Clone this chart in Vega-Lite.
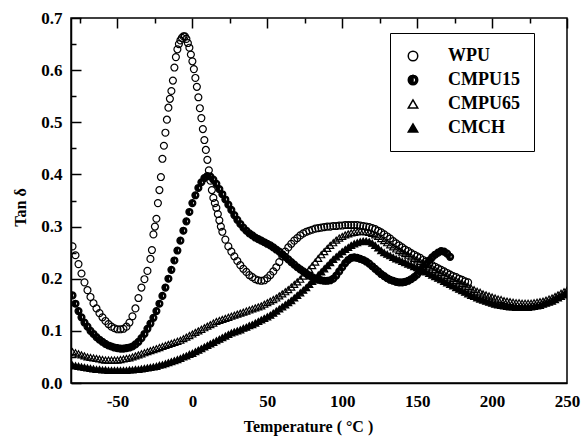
{
"$schema":"https://vega.github.io/schema/vega-lite/v6.json",
"width":496,"height":365,
"autosize":{"type":"none"},
"padding":{"left":71,"top":18,"right":18,"bottom":58},
"background":"white",
"config":{"view":{"stroke":"black","strokeWidth":1.5},"font":"Liberation Serif"},
"data":{"values":[
{"s":"CMCH","t":-80,"v":0.034},{"s":"CMCH","t":-78,"v":0.033},{"s":"CMCH","t":-76,"v":0.032},{"s":"CMCH","t":-74,"v":0.031},{"s":"CMCH","t":-72,"v":0.030},{"s":"CMCH","t":-70,"v":0.029},{"s":"CMCH","t":-68,"v":0.028},{"s":"CMCH","t":-66,"v":0.027},{"s":"CMCH","t":-64,"v":0.026},{"s":"CMCH","t":-62,"v":0.026},{"s":"CMCH","t":-60,"v":0.025},{"s":"CMCH","t":-58,"v":0.025},{"s":"CMCH","t":-56,"v":0.024},{"s":"CMCH","t":-54,"v":0.024},{"s":"CMCH","t":-52,"v":0.024},{"s":"CMCH","t":-50,"v":0.024},{"s":"CMCH","t":-48,"v":0.024},{"s":"CMCH","t":-46,"v":0.024},{"s":"CMCH","t":-44,"v":0.024},{"s":"CMCH","t":-42,"v":0.025},{"s":"CMCH","t":-40,"v":0.025},{"s":"CMCH","t":-38,"v":0.026},{"s":"CMCH","t":-36,"v":0.026},{"s":"CMCH","t":-34,"v":0.027},{"s":"CMCH","t":-32,"v":0.028},{"s":"CMCH","t":-30,"v":0.029},{"s":"CMCH","t":-28,"v":0.030},{"s":"CMCH","t":-26,"v":0.031},{"s":"CMCH","t":-24,"v":0.032},{"s":"CMCH","t":-22,"v":0.034},{"s":"CMCH","t":-20,"v":0.035},{"s":"CMCH","t":-18,"v":0.037},{"s":"CMCH","t":-16,"v":0.039},{"s":"CMCH","t":-14,"v":0.041},{"s":"CMCH","t":-12,"v":0.043},{"s":"CMCH","t":-10,"v":0.045},{"s":"CMCH","t":-8,"v":0.047},{"s":"CMCH","t":-6,"v":0.050},{"s":"CMCH","t":-4,"v":0.052},{"s":"CMCH","t":-2,"v":0.055},{"s":"CMCH","t":0,"v":0.057},{"s":"CMCH","t":2,"v":0.060},{"s":"CMCH","t":4,"v":0.063},{"s":"CMCH","t":6,"v":0.066},{"s":"CMCH","t":8,"v":0.069},{"s":"CMCH","t":10,"v":0.072},{"s":"CMCH","t":12,"v":0.075},{"s":"CMCH","t":14,"v":0.078},{"s":"CMCH","t":16,"v":0.081},{"s":"CMCH","t":18,"v":0.084},{"s":"CMCH","t":20,"v":0.087},{"s":"CMCH","t":22,"v":0.090},{"s":"CMCH","t":24,"v":0.093},{"s":"CMCH","t":26,"v":0.096},{"s":"CMCH","t":28,"v":0.098},{"s":"CMCH","t":30,"v":0.100},{"s":"CMCH","t":32,"v":0.102},{"s":"CMCH","t":34,"v":0.105},{"s":"CMCH","t":36,"v":0.107},{"s":"CMCH","t":38,"v":0.110},{"s":"CMCH","t":40,"v":0.112},{"s":"CMCH","t":42,"v":0.115},{"s":"CMCH","t":44,"v":0.118},{"s":"CMCH","t":46,"v":0.121},{"s":"CMCH","t":48,"v":0.124},{"s":"CMCH","t":50,"v":0.127},{"s":"CMCH","t":52,"v":0.130},{"s":"CMCH","t":54,"v":0.134},{"s":"CMCH","t":56,"v":0.138},{"s":"CMCH","t":58,"v":0.142},{"s":"CMCH","t":60,"v":0.146},{"s":"CMCH","t":62,"v":0.150},{"s":"CMCH","t":64,"v":0.154},{"s":"CMCH","t":66,"v":0.158},{"s":"CMCH","t":68,"v":0.163},{"s":"CMCH","t":70,"v":0.168},{"s":"CMCH","t":72,"v":0.173},{"s":"CMCH","t":74,"v":0.178},{"s":"CMCH","t":76,"v":0.183},{"s":"CMCH","t":78,"v":0.189},{"s":"CMCH","t":80,"v":0.195},{"s":"CMCH","t":82,"v":0.201},{"s":"CMCH","t":84,"v":0.207},{"s":"CMCH","t":86,"v":0.213},{"s":"CMCH","t":88,"v":0.219},{"s":"CMCH","t":90,"v":0.225},{"s":"CMCH","t":92,"v":0.231},{"s":"CMCH","t":94,"v":0.237},{"s":"CMCH","t":96,"v":0.242},{"s":"CMCH","t":98,"v":0.247},{"s":"CMCH","t":100,"v":0.252},{"s":"CMCH","t":102,"v":0.256},{"s":"CMCH","t":104,"v":0.260},{"s":"CMCH","t":106,"v":0.264},{"s":"CMCH","t":108,"v":0.267},{"s":"CMCH","t":110,"v":0.269},{"s":"CMCH","t":112,"v":0.271},{"s":"CMCH","t":114,"v":0.272},{"s":"CMCH","t":116,"v":0.272},{"s":"CMCH","t":118,"v":0.271},{"s":"CMCH","t":120,"v":0.268},{"s":"CMCH","t":122,"v":0.264},{"s":"CMCH","t":124,"v":0.259},{"s":"CMCH","t":126,"v":0.254},{"s":"CMCH","t":128,"v":0.250},{"s":"CMCH","t":130,"v":0.247},{"s":"CMCH","t":132,"v":0.244},{"s":"CMCH","t":134,"v":0.241},{"s":"CMCH","t":136,"v":0.238},{"s":"CMCH","t":138,"v":0.236},{"s":"CMCH","t":140,"v":0.233},{"s":"CMCH","t":142,"v":0.231},{"s":"CMCH","t":144,"v":0.228},{"s":"CMCH","t":146,"v":0.226},{"s":"CMCH","t":148,"v":0.223},{"s":"CMCH","t":150,"v":0.221},{"s":"CMCH","t":152,"v":0.218},{"s":"CMCH","t":154,"v":0.216},{"s":"CMCH","t":156,"v":0.213},{"s":"CMCH","t":158,"v":0.210},{"s":"CMCH","t":160,"v":0.207},{"s":"CMCH","t":162,"v":0.204},{"s":"CMCH","t":164,"v":0.201},{"s":"CMCH","t":166,"v":0.198},{"s":"CMCH","t":168,"v":0.195},{"s":"CMCH","t":170,"v":0.192},{"s":"CMCH","t":172,"v":0.189},{"s":"CMCH","t":174,"v":0.186},{"s":"CMCH","t":176,"v":0.183},{"s":"CMCH","t":178,"v":0.180},{"s":"CMCH","t":180,"v":0.177},{"s":"CMCH","t":182,"v":0.174},{"s":"CMCH","t":184,"v":0.171},{"s":"CMCH","t":186,"v":0.168},{"s":"CMCH","t":188,"v":0.166},{"s":"CMCH","t":190,"v":0.163},{"s":"CMCH","t":192,"v":0.161},{"s":"CMCH","t":194,"v":0.159},{"s":"CMCH","t":196,"v":0.157},{"s":"CMCH","t":198,"v":0.155},{"s":"CMCH","t":200,"v":0.153},{"s":"CMCH","t":202,"v":0.151},{"s":"CMCH","t":204,"v":0.150},{"s":"CMCH","t":206,"v":0.149},{"s":"CMCH","t":208,"v":0.148},{"s":"CMCH","t":210,"v":0.147},{"s":"CMCH","t":212,"v":0.146},{"s":"CMCH","t":214,"v":0.146},{"s":"CMCH","t":216,"v":0.145},{"s":"CMCH","t":218,"v":0.145},{"s":"CMCH","t":220,"v":0.145},{"s":"CMCH","t":222,"v":0.145},{"s":"CMCH","t":224,"v":0.145},{"s":"CMCH","t":226,"v":0.146},{"s":"CMCH","t":228,"v":0.147},{"s":"CMCH","t":230,"v":0.148},{"s":"CMCH","t":232,"v":0.149},{"s":"CMCH","t":234,"v":0.151},{"s":"CMCH","t":236,"v":0.153},{"s":"CMCH","t":238,"v":0.155},{"s":"CMCH","t":240,"v":0.157},{"s":"CMCH","t":242,"v":0.160},{"s":"CMCH","t":244,"v":0.163},{"s":"CMCH","t":246,"v":0.166},{"s":"CMCH","t":248,"v":0.169},{"s":"CMCH","t":250,"v":0.172},
{"s":"CMPU65","t":-80,"v":0.060},{"s":"CMPU65","t":-78,"v":0.058},{"s":"CMPU65","t":-76,"v":0.056},{"s":"CMPU65","t":-74,"v":0.054},{"s":"CMPU65","t":-72,"v":0.052},{"s":"CMPU65","t":-70,"v":0.050},{"s":"CMPU65","t":-68,"v":0.049},{"s":"CMPU65","t":-66,"v":0.048},{"s":"CMPU65","t":-64,"v":0.047},{"s":"CMPU65","t":-62,"v":0.046},{"s":"CMPU65","t":-60,"v":0.045},{"s":"CMPU65","t":-58,"v":0.044},{"s":"CMPU65","t":-56,"v":0.044},{"s":"CMPU65","t":-54,"v":0.044},{"s":"CMPU65","t":-52,"v":0.044},{"s":"CMPU65","t":-50,"v":0.044},{"s":"CMPU65","t":-48,"v":0.045},{"s":"CMPU65","t":-46,"v":0.046},{"s":"CMPU65","t":-44,"v":0.047},{"s":"CMPU65","t":-42,"v":0.048},{"s":"CMPU65","t":-40,"v":0.050},{"s":"CMPU65","t":-38,"v":0.052},{"s":"CMPU65","t":-36,"v":0.054},{"s":"CMPU65","t":-34,"v":0.056},{"s":"CMPU65","t":-32,"v":0.058},{"s":"CMPU65","t":-30,"v":0.060},{"s":"CMPU65","t":-28,"v":0.062},{"s":"CMPU65","t":-26,"v":0.064},{"s":"CMPU65","t":-24,"v":0.066},{"s":"CMPU65","t":-22,"v":0.068},{"s":"CMPU65","t":-20,"v":0.070},{"s":"CMPU65","t":-18,"v":0.072},{"s":"CMPU65","t":-16,"v":0.074},{"s":"CMPU65","t":-14,"v":0.076},{"s":"CMPU65","t":-12,"v":0.078},{"s":"CMPU65","t":-10,"v":0.080},{"s":"CMPU65","t":-8,"v":0.082},{"s":"CMPU65","t":-6,"v":0.085},{"s":"CMPU65","t":-4,"v":0.088},{"s":"CMPU65","t":-2,"v":0.091},{"s":"CMPU65","t":0,"v":0.094},{"s":"CMPU65","t":2,"v":0.097},{"s":"CMPU65","t":4,"v":0.100},{"s":"CMPU65","t":6,"v":0.103},{"s":"CMPU65","t":8,"v":0.106},{"s":"CMPU65","t":10,"v":0.109},{"s":"CMPU65","t":12,"v":0.112},{"s":"CMPU65","t":14,"v":0.115},{"s":"CMPU65","t":16,"v":0.118},{"s":"CMPU65","t":18,"v":0.120},{"s":"CMPU65","t":20,"v":0.122},{"s":"CMPU65","t":22,"v":0.124},{"s":"CMPU65","t":24,"v":0.126},{"s":"CMPU65","t":26,"v":0.128},{"s":"CMPU65","t":28,"v":0.130},{"s":"CMPU65","t":30,"v":0.132},{"s":"CMPU65","t":32,"v":0.134},{"s":"CMPU65","t":34,"v":0.136},{"s":"CMPU65","t":36,"v":0.138},{"s":"CMPU65","t":38,"v":0.140},{"s":"CMPU65","t":40,"v":0.142},{"s":"CMPU65","t":42,"v":0.144},{"s":"CMPU65","t":44,"v":0.146},{"s":"CMPU65","t":46,"v":0.148},{"s":"CMPU65","t":48,"v":0.151},{"s":"CMPU65","t":50,"v":0.154},{"s":"CMPU65","t":52,"v":0.157},{"s":"CMPU65","t":54,"v":0.160},{"s":"CMPU65","t":56,"v":0.163},{"s":"CMPU65","t":58,"v":0.167},{"s":"CMPU65","t":60,"v":0.171},{"s":"CMPU65","t":62,"v":0.175},{"s":"CMPU65","t":64,"v":0.179},{"s":"CMPU65","t":66,"v":0.184},{"s":"CMPU65","t":68,"v":0.189},{"s":"CMPU65","t":70,"v":0.194},{"s":"CMPU65","t":72,"v":0.199},{"s":"CMPU65","t":74,"v":0.205},{"s":"CMPU65","t":76,"v":0.211},{"s":"CMPU65","t":78,"v":0.218},{"s":"CMPU65","t":80,"v":0.225},{"s":"CMPU65","t":82,"v":0.232},{"s":"CMPU65","t":84,"v":0.239},{"s":"CMPU65","t":86,"v":0.246},{"s":"CMPU65","t":88,"v":0.252},{"s":"CMPU65","t":90,"v":0.258},{"s":"CMPU65","t":92,"v":0.264},{"s":"CMPU65","t":94,"v":0.269},{"s":"CMPU65","t":96,"v":0.274},{"s":"CMPU65","t":98,"v":0.278},{"s":"CMPU65","t":100,"v":0.281},{"s":"CMPU65","t":102,"v":0.284},{"s":"CMPU65","t":104,"v":0.286},{"s":"CMPU65","t":106,"v":0.288},{"s":"CMPU65","t":108,"v":0.289},{"s":"CMPU65","t":110,"v":0.290},{"s":"CMPU65","t":112,"v":0.291},{"s":"CMPU65","t":114,"v":0.291},{"s":"CMPU65","t":116,"v":0.290},{"s":"CMPU65","t":118,"v":0.289},{"s":"CMPU65","t":120,"v":0.287},{"s":"CMPU65","t":122,"v":0.284},{"s":"CMPU65","t":124,"v":0.281},{"s":"CMPU65","t":126,"v":0.277},{"s":"CMPU65","t":128,"v":0.273},{"s":"CMPU65","t":130,"v":0.269},{"s":"CMPU65","t":132,"v":0.265},{"s":"CMPU65","t":134,"v":0.261},{"s":"CMPU65","t":136,"v":0.257},{"s":"CMPU65","t":138,"v":0.254},{"s":"CMPU65","t":140,"v":0.251},{"s":"CMPU65","t":142,"v":0.248},{"s":"CMPU65","t":144,"v":0.245},{"s":"CMPU65","t":146,"v":0.242},{"s":"CMPU65","t":148,"v":0.239},{"s":"CMPU65","t":150,"v":0.236},{"s":"CMPU65","t":152,"v":0.233},{"s":"CMPU65","t":154,"v":0.230},{"s":"CMPU65","t":156,"v":0.227},{"s":"CMPU65","t":158,"v":0.224},{"s":"CMPU65","t":160,"v":0.221},{"s":"CMPU65","t":162,"v":0.218},{"s":"CMPU65","t":164,"v":0.215},{"s":"CMPU65","t":166,"v":0.212},{"s":"CMPU65","t":168,"v":0.209},{"s":"CMPU65","t":170,"v":0.206},{"s":"CMPU65","t":172,"v":0.203},{"s":"CMPU65","t":174,"v":0.200},{"s":"CMPU65","t":176,"v":0.197},{"s":"CMPU65","t":178,"v":0.194},{"s":"CMPU65","t":180,"v":0.191},{"s":"CMPU65","t":182,"v":0.188},{"s":"CMPU65","t":184,"v":0.185},{"s":"CMPU65","t":186,"v":0.182},{"s":"CMPU65","t":188,"v":0.179},{"s":"CMPU65","t":190,"v":0.176},{"s":"CMPU65","t":192,"v":0.174},{"s":"CMPU65","t":194,"v":0.171},{"s":"CMPU65","t":196,"v":0.169},{"s":"CMPU65","t":198,"v":0.167},{"s":"CMPU65","t":200,"v":0.165},{"s":"CMPU65","t":202,"v":0.163},{"s":"CMPU65","t":204,"v":0.161},{"s":"CMPU65","t":206,"v":0.160},{"s":"CMPU65","t":208,"v":0.158},{"s":"CMPU65","t":210,"v":0.157},{"s":"CMPU65","t":212,"v":0.156},{"s":"CMPU65","t":214,"v":0.155},{"s":"CMPU65","t":216,"v":0.154},{"s":"CMPU65","t":218,"v":0.154},{"s":"CMPU65","t":220,"v":0.153},{"s":"CMPU65","t":222,"v":0.153},{"s":"CMPU65","t":224,"v":0.153},{"s":"CMPU65","t":226,"v":0.153},{"s":"CMPU65","t":228,"v":0.154},{"s":"CMPU65","t":230,"v":0.155},{"s":"CMPU65","t":232,"v":0.156},{"s":"CMPU65","t":234,"v":0.157},{"s":"CMPU65","t":236,"v":0.159},{"s":"CMPU65","t":238,"v":0.161},{"s":"CMPU65","t":240,"v":0.163},{"s":"CMPU65","t":242,"v":0.166},{"s":"CMPU65","t":244,"v":0.169},{"s":"CMPU65","t":246,"v":0.172},{"s":"CMPU65","t":248,"v":0.175},{"s":"CMPU65","t":250,"v":0.178},
{"s":"CMPU15","t":-80,"v":0.168},{"s":"CMPU15","t":-78,"v":0.152},{"s":"CMPU15","t":-76,"v":0.138},{"s":"CMPU15","t":-74,"v":0.126},{"s":"CMPU15","t":-72,"v":0.116},{"s":"CMPU15","t":-70,"v":0.108},{"s":"CMPU15","t":-68,"v":0.100},{"s":"CMPU15","t":-66,"v":0.094},{"s":"CMPU15","t":-64,"v":0.088},{"s":"CMPU15","t":-62,"v":0.083},{"s":"CMPU15","t":-60,"v":0.079},{"s":"CMPU15","t":-58,"v":0.075},{"s":"CMPU15","t":-56,"v":0.072},{"s":"CMPU15","t":-54,"v":0.070},{"s":"CMPU15","t":-52,"v":0.068},{"s":"CMPU15","t":-50,"v":0.067},{"s":"CMPU15","t":-48,"v":0.066},{"s":"CMPU15","t":-46,"v":0.066},{"s":"CMPU15","t":-44,"v":0.067},{"s":"CMPU15","t":-42,"v":0.068},{"s":"CMPU15","t":-40,"v":0.070},{"s":"CMPU15","t":-38,"v":0.074},{"s":"CMPU15","t":-36,"v":0.079},{"s":"CMPU15","t":-34,"v":0.086},{"s":"CMPU15","t":-32,"v":0.094},{"s":"CMPU15","t":-30,"v":0.104},{"s":"CMPU15","t":-28,"v":0.114},{"s":"CMPU15","t":-26,"v":0.125},{"s":"CMPU15","t":-24,"v":0.138},{"s":"CMPU15","t":-22,"v":0.152},{"s":"CMPU15","t":-20,"v":0.167},{"s":"CMPU15","t":-18,"v":0.183},{"s":"CMPU15","t":-16,"v":0.200},{"s":"CMPU15","t":-14,"v":0.217},{"s":"CMPU15","t":-12,"v":0.235},{"s":"CMPU15","t":-10,"v":0.254},{"s":"CMPU15","t":-8,"v":0.273},{"s":"CMPU15","t":-6,"v":0.292},{"s":"CMPU15","t":-4,"v":0.310},{"s":"CMPU15","t":-2,"v":0.328},{"s":"CMPU15","t":0,"v":0.345},{"s":"CMPU15","t":2,"v":0.360},{"s":"CMPU15","t":4,"v":0.374},{"s":"CMPU15","t":6,"v":0.385},{"s":"CMPU15","t":8,"v":0.393},{"s":"CMPU15","t":10,"v":0.397},{"s":"CMPU15","t":12,"v":0.396},{"s":"CMPU15","t":14,"v":0.390},{"s":"CMPU15","t":16,"v":0.382},{"s":"CMPU15","t":18,"v":0.372},{"s":"CMPU15","t":20,"v":0.362},{"s":"CMPU15","t":22,"v":0.352},{"s":"CMPU15","t":24,"v":0.342},{"s":"CMPU15","t":26,"v":0.332},{"s":"CMPU15","t":28,"v":0.322},{"s":"CMPU15","t":30,"v":0.313},{"s":"CMPU15","t":32,"v":0.305},{"s":"CMPU15","t":34,"v":0.298},{"s":"CMPU15","t":36,"v":0.292},{"s":"CMPU15","t":38,"v":0.287},{"s":"CMPU15","t":40,"v":0.283},{"s":"CMPU15","t":42,"v":0.279},{"s":"CMPU15","t":44,"v":0.276},{"s":"CMPU15","t":46,"v":0.273},{"s":"CMPU15","t":48,"v":0.270},{"s":"CMPU15","t":50,"v":0.267},{"s":"CMPU15","t":52,"v":0.264},{"s":"CMPU15","t":54,"v":0.260},{"s":"CMPU15","t":56,"v":0.256},{"s":"CMPU15","t":58,"v":0.252},{"s":"CMPU15","t":60,"v":0.247},{"s":"CMPU15","t":62,"v":0.242},{"s":"CMPU15","t":64,"v":0.237},{"s":"CMPU15","t":66,"v":0.232},{"s":"CMPU15","t":68,"v":0.227},{"s":"CMPU15","t":70,"v":0.222},{"s":"CMPU15","t":72,"v":0.218},{"s":"CMPU15","t":74,"v":0.214},{"s":"CMPU15","t":76,"v":0.210},{"s":"CMPU15","t":78,"v":0.206},{"s":"CMPU15","t":80,"v":0.203},{"s":"CMPU15","t":82,"v":0.200},{"s":"CMPU15","t":84,"v":0.198},{"s":"CMPU15","t":86,"v":0.197},{"s":"CMPU15","t":88,"v":0.196},{"s":"CMPU15","t":90,"v":0.196},{"s":"CMPU15","t":92,"v":0.197},{"s":"CMPU15","t":94,"v":0.200},{"s":"CMPU15","t":96,"v":0.206},{"s":"CMPU15","t":98,"v":0.214},{"s":"CMPU15","t":100,"v":0.222},{"s":"CMPU15","t":102,"v":0.230},{"s":"CMPU15","t":104,"v":0.236},{"s":"CMPU15","t":106,"v":0.240},{"s":"CMPU15","t":108,"v":0.241},{"s":"CMPU15","t":110,"v":0.240},{"s":"CMPU15","t":112,"v":0.238},{"s":"CMPU15","t":114,"v":0.236},{"s":"CMPU15","t":116,"v":0.233},{"s":"CMPU15","t":118,"v":0.229},{"s":"CMPU15","t":120,"v":0.224},{"s":"CMPU15","t":122,"v":0.219},{"s":"CMPU15","t":124,"v":0.214},{"s":"CMPU15","t":126,"v":0.209},{"s":"CMPU15","t":128,"v":0.205},{"s":"CMPU15","t":130,"v":0.201},{"s":"CMPU15","t":132,"v":0.198},{"s":"CMPU15","t":134,"v":0.196},{"s":"CMPU15","t":136,"v":0.194},{"s":"CMPU15","t":138,"v":0.193},{"s":"CMPU15","t":140,"v":0.193},{"s":"CMPU15","t":142,"v":0.194},{"s":"CMPU15","t":144,"v":0.196},{"s":"CMPU15","t":146,"v":0.199},{"s":"CMPU15","t":148,"v":0.203},{"s":"CMPU15","t":150,"v":0.208},{"s":"CMPU15","t":152,"v":0.214},{"s":"CMPU15","t":154,"v":0.221},{"s":"CMPU15","t":156,"v":0.228},{"s":"CMPU15","t":158,"v":0.235},{"s":"CMPU15","t":160,"v":0.241},{"s":"CMPU15","t":162,"v":0.246},{"s":"CMPU15","t":164,"v":0.250},{"s":"CMPU15","t":166,"v":0.253},{"s":"CMPU15","t":168,"v":0.252},{"s":"CMPU15","t":170,"v":0.248},{"s":"CMPU15","t":172,"v":0.242},
{"s":"WPU","t":-80,"v":0.262},{"s":"WPU","t":-78,"v":0.245},{"s":"WPU","t":-76,"v":0.228},{"s":"WPU","t":-74,"v":0.210},{"s":"WPU","t":-72,"v":0.193},{"s":"WPU","t":-70,"v":0.178},{"s":"WPU","t":-68,"v":0.165},{"s":"WPU","t":-66,"v":0.153},{"s":"WPU","t":-64,"v":0.143},{"s":"WPU","t":-62,"v":0.134},{"s":"WPU","t":-60,"v":0.126},{"s":"WPU","t":-58,"v":0.119},{"s":"WPU","t":-56,"v":0.113},{"s":"WPU","t":-54,"v":0.108},{"s":"WPU","t":-52,"v":0.105},{"s":"WPU","t":-50,"v":0.103},{"s":"WPU","t":-48,"v":0.103},{"s":"WPU","t":-46,"v":0.104},{"s":"WPU","t":-44,"v":0.108},{"s":"WPU","t":-42,"v":0.116},{"s":"WPU","t":-40,"v":0.128},{"s":"WPU","t":-38,"v":0.143},{"s":"WPU","t":-36,"v":0.163},{"s":"WPU","t":-34,"v":0.183},{"s":"WPU","t":-32,"v":0.199},{"s":"WPU","t":-30,"v":0.215},{"s":"WPU","t":-28,"v":0.238},{"s":"WPU","t":-27,"v":0.255},{"s":"WPU","t":-26,"v":0.285},{"s":"WPU","t":-25,"v":0.300},{"s":"WPU","t":-24,"v":0.315},{"s":"WPU","t":-23,"v":0.345},{"s":"WPU","t":-22,"v":0.370},{"s":"WPU","t":-21,"v":0.395},{"s":"WPU","t":-20,"v":0.430},{"s":"WPU","t":-19,"v":0.455},{"s":"WPU","t":-18,"v":0.480},{"s":"WPU","t":-17,"v":0.505},{"s":"WPU","t":-16,"v":0.528},{"s":"WPU","t":-15,"v":0.545},{"s":"WPU","t":-14,"v":0.560},{"s":"WPU","t":-13,"v":0.580},{"s":"WPU","t":-12,"v":0.605},{"s":"WPU","t":-11,"v":0.625},{"s":"WPU","t":-10,"v":0.640},{"s":"WPU","t":-9,"v":0.650},{"s":"WPU","t":-8,"v":0.657},{"s":"WPU","t":-7,"v":0.662},{"s":"WPU","t":-6,"v":0.665},{"s":"WPU","t":-5,"v":0.665},{"s":"WPU","t":-4,"v":0.660},{"s":"WPU","t":-3,"v":0.652},{"s":"WPU","t":-2,"v":0.643},{"s":"WPU","t":-1,"v":0.630},{"s":"WPU","t":0,"v":0.617},{"s":"WPU","t":1,"v":0.602},{"s":"WPU","t":2,"v":0.585},{"s":"WPU","t":3,"v":0.568},{"s":"WPU","t":4,"v":0.548},{"s":"WPU","t":5,"v":0.527},{"s":"WPU","t":6,"v":0.508},{"s":"WPU","t":7,"v":0.487},{"s":"WPU","t":8,"v":0.466},{"s":"WPU","t":9,"v":0.447},{"s":"WPU","t":10,"v":0.428},{"s":"WPU","t":11,"v":0.408},{"s":"WPU","t":12,"v":0.388},{"s":"WPU","t":13,"v":0.370},{"s":"WPU","t":14,"v":0.355},{"s":"WPU","t":15,"v":0.345},{"s":"WPU","t":16,"v":0.336},{"s":"WPU","t":17,"v":0.324},{"s":"WPU","t":18,"v":0.312},{"s":"WPU","t":19,"v":0.300},{"s":"WPU","t":20,"v":0.290},{"s":"WPU","t":22,"v":0.275},{"s":"WPU","t":24,"v":0.262},{"s":"WPU","t":26,"v":0.252},{"s":"WPU","t":28,"v":0.243},{"s":"WPU","t":30,"v":0.234},{"s":"WPU","t":32,"v":0.226},{"s":"WPU","t":34,"v":0.219},{"s":"WPU","t":36,"v":0.213},{"s":"WPU","t":38,"v":0.207},{"s":"WPU","t":40,"v":0.203},{"s":"WPU","t":42,"v":0.199},{"s":"WPU","t":44,"v":0.197},{"s":"WPU","t":46,"v":0.196},{"s":"WPU","t":48,"v":0.197},{"s":"WPU","t":50,"v":0.201},{"s":"WPU","t":52,"v":0.207},{"s":"WPU","t":54,"v":0.214},{"s":"WPU","t":56,"v":0.222},{"s":"WPU","t":58,"v":0.232},{"s":"WPU","t":60,"v":0.243},{"s":"WPU","t":62,"v":0.252},{"s":"WPU","t":64,"v":0.260},{"s":"WPU","t":66,"v":0.267},{"s":"WPU","t":68,"v":0.273},{"s":"WPU","t":70,"v":0.278},{"s":"WPU","t":72,"v":0.283},{"s":"WPU","t":74,"v":0.287},{"s":"WPU","t":76,"v":0.290},{"s":"WPU","t":78,"v":0.292},{"s":"WPU","t":80,"v":0.294},{"s":"WPU","t":82,"v":0.296},{"s":"WPU","t":84,"v":0.297},{"s":"WPU","t":86,"v":0.298},{"s":"WPU","t":88,"v":0.299},{"s":"WPU","t":90,"v":0.300},{"s":"WPU","t":92,"v":0.300},{"s":"WPU","t":94,"v":0.301},{"s":"WPU","t":96,"v":0.301},{"s":"WPU","t":98,"v":0.302},{"s":"WPU","t":100,"v":0.302},{"s":"WPU","t":102,"v":0.303},{"s":"WPU","t":104,"v":0.303},{"s":"WPU","t":106,"v":0.303},{"s":"WPU","t":108,"v":0.303},{"s":"WPU","t":110,"v":0.303},{"s":"WPU","t":112,"v":0.302},{"s":"WPU","t":114,"v":0.301},{"s":"WPU","t":116,"v":0.300},{"s":"WPU","t":118,"v":0.299},{"s":"WPU","t":120,"v":0.297},{"s":"WPU","t":122,"v":0.295},{"s":"WPU","t":124,"v":0.292},{"s":"WPU","t":126,"v":0.289},{"s":"WPU","t":128,"v":0.285},{"s":"WPU","t":130,"v":0.281},{"s":"WPU","t":132,"v":0.277},{"s":"WPU","t":134,"v":0.272},{"s":"WPU","t":136,"v":0.268},{"s":"WPU","t":138,"v":0.264},{"s":"WPU","t":140,"v":0.260},{"s":"WPU","t":142,"v":0.256},{"s":"WPU","t":144,"v":0.253},{"s":"WPU","t":146,"v":0.249},{"s":"WPU","t":148,"v":0.246},{"s":"WPU","t":150,"v":0.243},{"s":"WPU","t":152,"v":0.240},{"s":"WPU","t":154,"v":0.236},{"s":"WPU","t":156,"v":0.233},{"s":"WPU","t":158,"v":0.229},{"s":"WPU","t":160,"v":0.226},{"s":"WPU","t":162,"v":0.223},{"s":"WPU","t":164,"v":0.220},{"s":"WPU","t":166,"v":0.217},{"s":"WPU","t":168,"v":0.214},{"s":"WPU","t":170,"v":0.211},{"s":"WPU","t":172,"v":0.208},{"s":"WPU","t":174,"v":0.205},{"s":"WPU","t":176,"v":0.203},{"s":"WPU","t":178,"v":0.200},{"s":"WPU","t":180,"v":0.198},{"s":"WPU","t":182,"v":0.195},{"s":"WPU","t":184,"v":0.193}
]},
"mark":{"type":"point","filled":true,"opacity":1,"stroke":"black","strokeWidth":1.2,"size":48,"clip":true},
"encoding":{
"x":{"field":"t","type":"quantitative","scale":{"domain":[-81,250],"nice":false,"zero":false},
 "axis":{"orient":"bottom","title":"Temperature ( °C )","values":[-75,-50,-25,0,25,50,75,100,125,150,175,200,225,250],
 "labelExpr":"datum.value % 50 === 0 ? '' + datum.value : ''","zindex":1,
 "ticks":false,"grid":true,"gridColor":"black","gridWidth":1.5,"gridOpacity":1,
 "gridDash":{"condition":{"test":"datum.value % 50 !== 0","value":[5,2000]},"value":[10,2000]},
 "domain":true,"domainColor":"black","domainWidth":1.5,"labelPadding":10,
 "labelFont":"Liberation Serif","labelFontWeight":"bold","labelFontSize":17,"labelColor":"black","labelFlush":false,
 "titleFont":"Liberation Serif","titleFontWeight":"bold","titleFontSize":16,"titleColor":"black",
 "titleX":237,"titleY":43,"titleBaseline":"middle","titleAnchor":"middle"}},
"y":{"field":"v","type":"quantitative","scale":{"domain":[0,0.7],"nice":false,"zero":false},
 "axis":{"orient":"left","title":"Tan δ","values":[0,0.05,0.1,0.15,0.2,0.25,0.3,0.35,0.4,0.45,0.5,0.55,0.6,0.65,0.7],
 "labelExpr":"round(datum.value*100) % 10 === 0 ? format(datum.value, '.1f') : ''","zindex":1,
 "ticks":false,"grid":true,"gridColor":"black","gridWidth":1.5,"gridOpacity":1,
 "gridDash":{"condition":{"test":"round(datum.value*100) % 10 !== 0","value":[5,2000]},"value":[10,2000]},
 "domain":true,"domainColor":"black","domainWidth":1.5,"labelPadding":9,
 "labelFont":"Liberation Serif","labelFontWeight":"bold","labelFontSize":17,"labelColor":"black","labelFlush":false,
 "titleFont":"Liberation Serif","titleFontWeight":"bold","titleFontSize":16,"titleColor":"black",
 "titleX":-51,"titleY":189,"titleAngle":-90,"titleBaseline":"middle","titleAnchor":"middle"}},
"shape":{"field":"s","type":"nominal","scale":{"domain":["WPU","CMPU15","CMPU65","CMCH"],"range":["circle","M0,-1A1,1,0,0,0,0,1ZM0,-1A1,1,0,0,1,0,1L0,0.6A0.6,0.6,0,0,0,0,-0.6Z","triangle-up","triangle-up"]},
 "legend":{"title":null,"orient":"none","legendX":319,"legendY":15,"strokeColor":"black","fillColor":"white","padding":14,
 "labelFont":"Liberation Serif","labelFontWeight":"bold","labelFontSize":18,"labelColor":"black","labelOffset":26,
 "rowPadding":6,"symbolSize":90,"symbolOpacity":1,
 "encode":{"symbols":{"update":{"stroke":{"value":"black"},"strokeWidth":{"value":1.5},"opacity":{"value":1}}}}}},
"fill":{"field":"s","type":"nominal","scale":{"domain":["WPU","CMPU15","CMPU65","CMCH"],"range":["transparent","black","transparent","black"]},"legend":{"title":null}}
}
}
